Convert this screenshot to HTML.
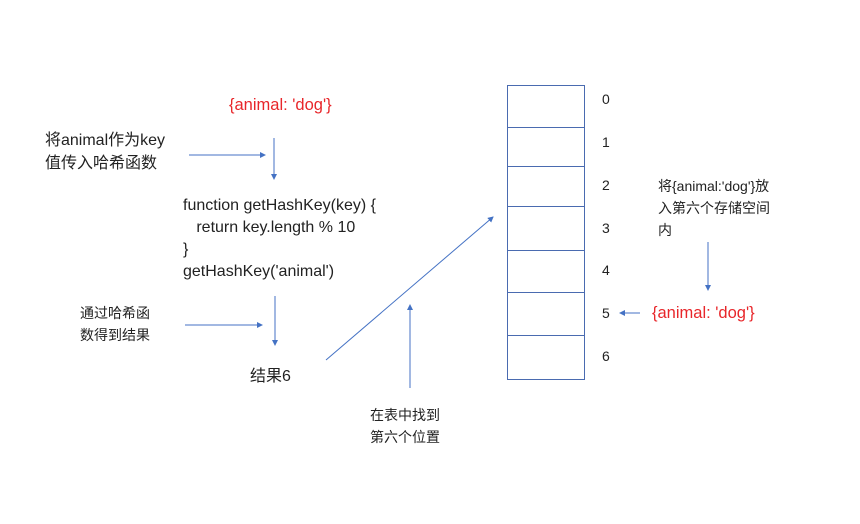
<!DOCTYPE html>
<html><head><meta charset="utf-8"><style>
body{margin:0;background:#fff;}
#c{position:relative;width:860px;height:524px;overflow:hidden;font-family:"Liberation Sans","Noto Sans CJK SC",sans-serif;color:#222;font-size:14px;}
.t{position:absolute;white-space:nowrap;line-height:22px;}
.r{color:#e8262a;font-size:16.5px;}
</style></head><body><div id="c">
<svg width="860" height="524" style="position:absolute;left:0;top:0">
<defs><marker id="a" markerWidth="6" markerHeight="6" refX="5" refY="3" orient="auto" markerUnits="userSpaceOnUse"><path d="M0,0 L6,3 L0,6z" fill="#4472c4"/></marker></defs>
<g stroke="#4472c4" stroke-width="1" fill="none" marker-end="url(#a)">
<line x1="189" y1="155" x2="265" y2="155"/>
<line x1="274" y1="138" x2="274" y2="179"/>
<line x1="185" y1="325" x2="262" y2="325"/>
<line x1="275" y1="296" x2="275" y2="345"/>
<line x1="326" y1="360" x2="493" y2="217"/>
<line x1="410" y1="388" x2="410" y2="305"/>
<line x1="708" y1="242" x2="708" y2="290"/>
<line x1="640" y1="313" x2="620" y2="313"/>
</g>
<g stroke="#4a6bb0" stroke-width="1" fill="none">
<rect x="507.5" y="85.5" width="77" height="294"/>
<line x1="507" y1="127.5" x2="585" y2="127.5"/>
<line x1="507" y1="166.5" x2="585" y2="166.5"/>
<line x1="507" y1="206.5" x2="585" y2="206.5"/>
<line x1="507" y1="250.5" x2="585" y2="250.5"/>
<line x1="507" y1="292.5" x2="585" y2="292.5"/>
<line x1="507" y1="335.5" x2="585" y2="335.5"/>
</g>
</svg>
<div class="t r" style="left:229px;top:94px">{animal: 'dog'}</div>
<div class="t" style="left:45px;top:129px;font-size:16px;line-height:23px">将animal作为key<br>值传入哈希函数</div>
<div class="t" style="left:183px;top:195px;font-size:16px">function getHashKey(key) {<br>&nbsp;&nbsp;&nbsp;return key.length % 10<br>}<br>getHashKey('animal')</div>
<div class="t" style="left:80px;top:302px">通过哈希函<br>数得到结果</div>
<div class="t" style="left:250px;top:366px;font-size:16px">结果6</div>
<div class="t" style="left:370px;top:404px">在表中找到<br>第六个位置</div>
<div class="t" style="left:658px;top:175px">将{animal:'dog'}放<br>入第六个存储空间<br>内</div>
<div class="t r" style="left:652px;top:302px">{animal: 'dog'}</div>
<div class="t" style="left:602px;top:88px">0</div>
<div class="t" style="left:602px;top:131px">1</div>
<div class="t" style="left:602px;top:174px">2</div>
<div class="t" style="left:602px;top:217px">3</div>
<div class="t" style="left:602px;top:259px">4</div>
<div class="t" style="left:602px;top:302px">5</div>
<div class="t" style="left:602px;top:345px">6</div>
</div></body></html>
